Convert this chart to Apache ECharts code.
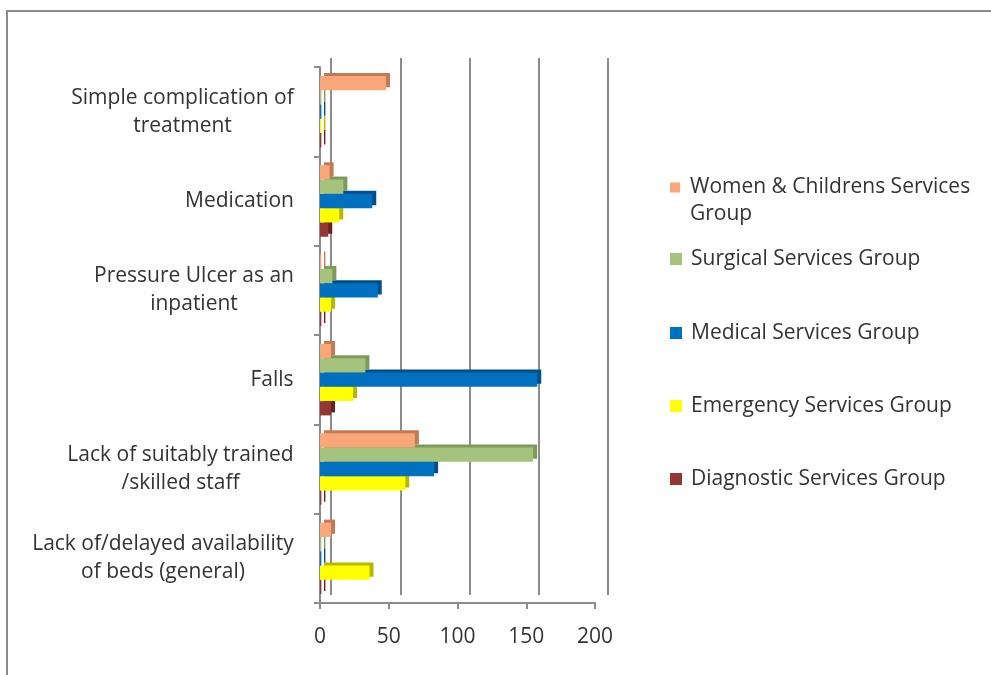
<!DOCTYPE html>
<html>
<head>
<meta charset="utf-8">
<script src="https://cdn.jsdelivr.net/npm/echarts@6/dist/echarts.min.js"></script>
<style>
html,body{margin:0;padding:0;background:#fff;}
#chart{width:991px;height:675px;}
#frame{position:absolute;left:6px;top:10px;width:990px;height:670px;border-left:2px solid #8a8a8a;border-top:2px solid #8a8a8a;pointer-events:none;}
</style>
</head>
<body>
<div id="chart"></div>
<div id="frame"></div>
<script>
const categories = [
  'Simple complication of\ntreatment',
  'Medication',
  'Pressure Ulcer as an\ninpatient',
  'Falls',
  'Lack of suitably trained\n/skilled staff',
  'Lack of/delayed availability\nof beds (general)'
];
const seriesNames = [
  'Women & Childrens Services Group',
  'Surgical Services Group',
  'Medical Services Group',
  'Emergency Services Group',
  'Diagnostic Services Group'
];
const women = [48, 7, 1, 8, 69, 8];
const surgical = [1, 17, 9, 33, 155, 1];
const medical = [1, 38, 42, 158, 83, 1];
const emergency = [1, 14, 8, 24, 62, 36];
const diagnostic = [1, 6, 1, 8, 1, 1];
const xTicks = [0, 50, 100, 150, 200];

const values = [women, surgical, medical, emergency, diagnostic];
const colors = ['#F9A679', '#A6C37D', '#0070C0', '#FFFF00', '#943634'];
const sideColors = ['#C47B55', '#7E9A5A', '#004F8A', '#B8B800', '#6A2220'];

const FONT = '"Open Sans", "Liberation Sans", sans-serif';
const FS = 21;
const textColor = '#333333';

// measure label widths for centered multi-line labels
const cv = document.createElement('canvas').getContext('2d');
cv.font = FS + 'px "Open Sans"';
const rich = {};
categories.forEach((c, i) => {
  const w = Math.max(...c.split('\n').map(s => cv.measureText(s).width));
  rich['l' + i] = {width: Math.ceil(w) + 2, align: 'center', fontSize: FS, fontFamily: FONT, color: textColor, lineHeight: 28};
});

const chart = echarts.init(document.getElementById('chart'), null, {renderer: 'canvas'});

const legendTops = [174, 247, 321, 394, 467];
const legends = seriesNames.map((n, i) => {
  const two = i === 0;
  return {
    data: [n],
    orient: 'vertical',
    left: 670,
    top: legendTops[i],
    padding: 0,
    itemWidth: 12,
    itemHeight: two ? 37 : 12,
    icon: two ? 'path://M0,0L10,0L10,10L0,10Z M0,37L0.001,37' : 'rect',
    selectedMode: false,
    formatter: two ? 'Women & Childrens Services\nGroup' : '{name}',
    textStyle: {fontSize: FS, fontFamily: FONT, color: textColor, lineHeight: two ? 27 : 24, padding: [0, 0, 0, 4]}
  };
});

const series = seriesNames.map((n, i) => ({
  name: n,
  type: 'bar',
  xAxisIndex: 0,
  yAxisIndex: 0,
  data: values[i],
  barGap: '0%',
  barCategoryGap: '20%',
  itemStyle: {
    color: colors[i],
    shadowColor: sideColors[i],
    shadowBlur: 0,
    shadowOffsetX: 4,
    shadowOffsetY: -3
  },
  z: 10 - i
}));

const option = {
  backgroundColor: '#fff',
  animation: false,
  legend: legends,
  grid: [
    {left: 320, right: 396, top: 67, bottom: 72, containLabel: false},
    {left: 331, right: 383, top: 58, bottom: 80, containLabel: false}
  ],
  xAxis: [
    {
      gridIndex: 0, type: 'value', min: 0, max: 200, interval: 50,
      axisLine: {show: true, lineStyle: {color: '#8c8c8c', width: 2}},
      axisTick: {show: true, length: 6, lineStyle: {color: '#8c8c8c', width: 2}},
      splitLine: {show: false},
      axisLabel: {fontSize: FS, fontFamily: FONT, color: textColor, margin: 24,
        customValues: xTicks}
    },
    {
      gridIndex: 1, type: 'value', min: 0, max: 200, interval: 50,
      axisLine: {show: false}, axisTick: {show: false}, axisLabel: {show: false},
      splitLine: {show: true, lineStyle: {color: '#8c8c8c', width: 2}}
    }
  ],
  yAxis: [
    {
      gridIndex: 0, type: 'category', data: categories, inverse: true,
      axisLine: {show: true, lineStyle: {color: '#8c8c8c', width: 2}},
      axisTick: {show: true, length: 6, lineStyle: {color: '#8c8c8c', width: 2}},
      axisLabel: {
        margin: 25,
        formatter: (v, idx) => v.split('\n').map(s => '{l' + idx + '|' + s + '}').join('\n'),
        rich: rich
      }
    },
    {
      gridIndex: 1, type: 'category', data: categories, inverse: true,
      axisLine: {show: false}, axisTick: {show: false}, axisLabel: {show: false}
    }
  ],
  series: series
};
chart.setOption(option);
</script>
</body>
</html>
